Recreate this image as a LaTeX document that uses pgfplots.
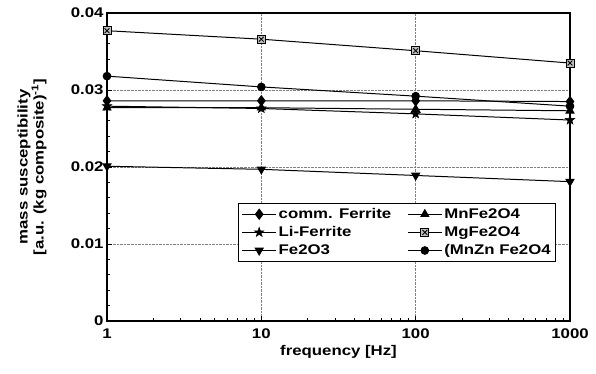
\documentclass[border=0pt]{standalone}
\usepackage{pgfplots}
\pgfplotsset{compat=1.18}
\usepackage{fontspec}
\setmainfont{Liberation Sans}[FakeStretch=1.2]
\pgfdeclareplotmark{boxx}{%
  \pgfpathrectangle{\pgfpoint{-\pgfplotmarksize}{-\pgfplotmarksize}}{\pgfpoint{2\pgfplotmarksize}{2\pgfplotmarksize}}%
  \pgfusepathqfillstroke
  \pgfpathmoveto{\pgfpoint{-0.6\pgfplotmarksize}{-0.6\pgfplotmarksize}}%
  \pgfpathlineto{\pgfpoint{0.6\pgfplotmarksize}{0.6\pgfplotmarksize}}%
  \pgfpathmoveto{\pgfpoint{-0.6\pgfplotmarksize}{0.6\pgfplotmarksize}}%
  \pgfpathlineto{\pgfpoint{0.6\pgfplotmarksize}{-0.6\pgfplotmarksize}}%
  \pgfusepathqstroke
}
\pgfdeclareplotmark{fstar}{%
  \pgfpathmoveto{\pgfqpointpolar{90}{\pgfplotmarksize}}%
  \pgfpathlineto{\pgfqpointpolar{126}{0.4\pgfplotmarksize}}%
  \pgfpathlineto{\pgfqpointpolar{162}{\pgfplotmarksize}}%
  \pgfpathlineto{\pgfqpointpolar{198}{0.4\pgfplotmarksize}}%
  \pgfpathlineto{\pgfqpointpolar{234}{\pgfplotmarksize}}%
  \pgfpathlineto{\pgfqpointpolar{270}{0.4\pgfplotmarksize}}%
  \pgfpathlineto{\pgfqpointpolar{306}{\pgfplotmarksize}}%
  \pgfpathlineto{\pgfqpointpolar{342}{0.4\pgfplotmarksize}}%
  \pgfpathlineto{\pgfqpointpolar{18}{\pgfplotmarksize}}%
  \pgfpathlineto{\pgfqpointpolar{54}{0.4\pgfplotmarksize}}%
  \pgfpathclose
  \pgfusepathqfillstroke
}
\newcommand{\ff}{\fontsize{14bp}{16bp}\selectfont\bfseries}
\begin{document}
\begin{tikzpicture}
\path[use as bounding box] (-107bp,-53bp) rectangle (489bp,321bp);
\begin{axis}[
  at={(0,0)}, anchor=south west,
  scale only axis, width=463bp, height=308bp,
  xmode=log, xmin=1, xmax=1000,
  xtick={1,10,100,1000}, xticklabels={1,10,100,1000},
  ymin=0, ymax=0.04,
  ytick={0,0.01,0.02,0.03,0.04},
  yticklabels={0,0.01,0.02,0.03,0.04},
  scaled y ticks=false,
  minor y tick num=4,
  tick align=inside,
  xtick pos=left, ytick pos=left,
  major tick length=5bp, minor tick length=3bp,
  grid=major,
  major grid style={densely dotted, gray, line width=0.8pt},
  axis line style={black, line width=1.1pt},
  tick style={black, line width=0.8pt},
  font=\ff,
  ticklabel style={font=\ff},
  xticklabel style={yshift=-4bp},
  /pgf/number format/assume math mode=true,
  xlabel={frequency [Hz]},
  ylabel={mass susceptibility\\{}[a.u. (kg composite)\textsuperscript{-1}]},
  ylabel style={align=center, font=\ff, at={(axis description cs:-0.162,0.5)}, anchor=center},
  xlabel style={font=\ff, at={(axis description cs:0.5,-0.101)}, anchor=center},
  legend columns=2,
  legend style={at={(0.97,0.383)}, anchor=north east, draw=black, line width=0.8pt,
    font=\ff, row sep=2.5bp, inner ysep=3bp,
    /tikz/every even column/.append style={column sep=14bp}},
  legend cell align=left,
  legend image code/.code={\draw[mark repeat=2,mark phase=2] plot coordinates {(0bp,0bp) (17bp,0bp) (34bp,0bp)};},
]
\addplot[black, line width=1pt, mark=diamond*, mark size=5bp, mark options={solid, fill=black}] coordinates {(1,0.0286) (10,0.0286) (100,0.0286) (1000,0.0285)};
\addlegendentry{comm. Ferrite}
\addplot[black, line width=1pt, mark=triangle*, mark size=4.5bp, mark options={solid, fill=black}] coordinates {(1,0.0277) (10,0.0277) (100,0.0275) (1000,0.0273)};
\addlegendentry{MnFe2O4}
\addplot[black, line width=1pt, mark=fstar, mark size=5bp, mark options={solid, fill=black, line width=0.5pt}] coordinates {(1,0.0279) (10,0.0276) (100,0.0269) (1000,0.0261)};
\addlegendentry{Li-Ferrite}
\addplot[black, line width=1pt, mark=boxx, mark size=4bp, mark options={solid, fill=gray!50, line width=0.8pt}] coordinates {(1,0.0377) (10,0.0366) (100,0.0351) (1000,0.0335)};
\addlegendentry{MgFe2O4}
\addplot[black, line width=1pt, mark=triangle*, mark size=4.5bp, mark options={solid, fill=black, rotate=180}] coordinates {(1,0.0201) (10,0.0197) (100,0.0189) (1000,0.0181)};
\addlegendentry{Fe2O3}
\addplot[black, line width=1pt, mark=*, mark size=3.8bp, mark options={solid, fill=black}] coordinates {(1,0.0318) (10,0.0304) (100,0.0292) (1000,0.0279)};
\addlegendentry{(MnZn Fe2O4}
\end{axis}
\end{tikzpicture}
\end{document}
